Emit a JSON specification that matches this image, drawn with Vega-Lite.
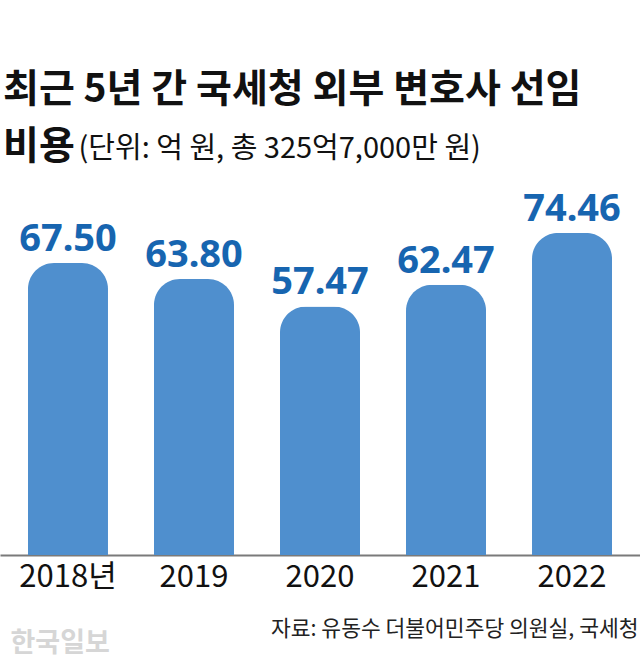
{
  "$schema": "https://vega.github.io/schema/vega-lite/v6.json",
  "autosize": "none",
  "width": 640,
  "height": 375,
  "padding": {"top": 180, "left": 0, "right": 0, "bottom": 112},
  "background": "white",
  "config": {"view": {"stroke": null}, "font": "Noto Sans CJK KR"},
  "title": {
    "text": ["최근 5년 간 국세청 외부 변호사 선임", "비용"],
    "anchor": "start",
    "frame": "group",
    "font": "Noto Sans CJK KR",
    "fontSize": 39,
    "fontWeight": "bold",
    "color": "#111111",
    "lineHeight": 57,
    "offset": 0,
    "dx": 3,
    "dy": 33
  },
  "data": {
    "values": [
      {"year": "2018년", "value": 67.50},
      {"year": "2019", "value": 63.80},
      {"year": "2020", "value": 57.47},
      {"year": "2021", "value": 62.47},
      {"year": "2022", "value": 74.46}
    ]
  },
  "layer": [
    {
      "mark": {"type": "bar", "color": "#4f8fce", "cornerRadiusTopLeft": 26, "cornerRadiusTopRight": 26},
      "encoding": {
        "x": {
          "field": "year", "type": "nominal", "sort": null,
          "scale": {"paddingInner": 0.365, "paddingOuter": 0.222},
          "axis": {
            "domain": true, "domainColor": "#7a7a7a", "domainWidth": 2,
            "ticks": false, "grid": false, "labelAngle": 0,
            "labelFont": "Noto Sans CJK KR",
            "labelFontSize": 31, "labelFontWeight": "normal", "labelColor": "#111111", "labelPadding": 7,
            "title": "자료: 유동수 더불어민주당 의원실, 국세청",
            "titleAnchor": "end", "titleAlign": "right", "titleX": 638, "titleY": 80,
            "titleBaseline": "alphabetic",
            "titleFont": "Noto Sans CJK KR", "titleFontSize": 21.5, "titleFontWeight": "normal",
            "titleColor": "#222222"
          }
        },
        "y": {
          "field": "value", "type": "quantitative",
          "scale": {"domain": [0, 86.7], "nice": false},
          "axis": {
            "domain": false, "ticks": false, "labels": false, "grid": false,
            "title": "(단위: 억 원, 총 325억7,000만 원)",
            "titleAngle": 0, "titleAlign": "left", "titleBaseline": "alphabetic",
            "titleX": 78, "titleY": -23,
            "titleFont": "Noto Sans CJK KR", "titleFontSize": 29, "titleFontWeight": "normal",
            "titleColor": "#111111"
          }
        }
      }
    },
    {
      "mark": {"type": "text", "font": "Noto Sans", "fontSize": 38, "fontWeight": "bold", "color": "#1765b0", "baseline": "alphabetic", "dy": -12},
      "encoding": {
        "x": {
          "field": "year", "type": "nominal", "sort": null,
          "axis": {
            "orient": "bottom", "domain": false, "ticks": false, "labels": false, "grid": false,
            "title": "한국일보", "titleAnchor": "start", "titleAlign": "left",
            "titleX": 10, "titleY": 96, "titleBaseline": "alphabetic",
            "titleFont": "Noto Sans CJK KR", "titleFontSize": 27, "titleFontWeight": "bold",
            "titleColor": "#d6d6d6"
          }
        },
        "y": {"field": "value", "type": "quantitative"},
        "text": {"field": "value", "type": "quantitative", "format": ".2f"}
      }
    }
  ],
  "resolve": {"axis": {"x": "independent"}}
}
